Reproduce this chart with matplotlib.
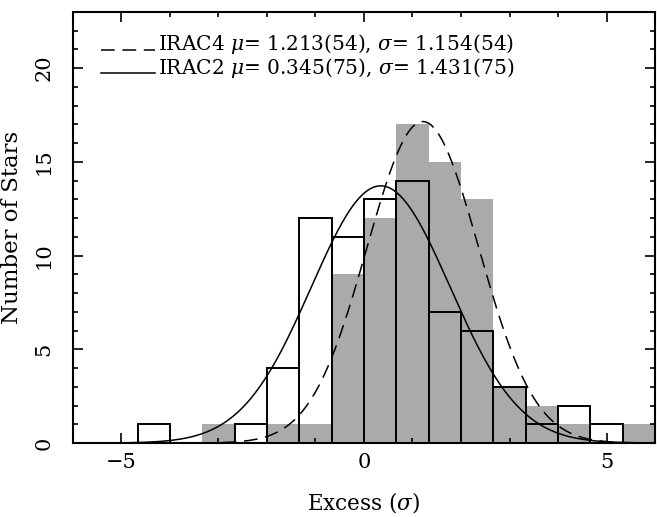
import numpy as np
import matplotlib
matplotlib.use("Agg")
import matplotlib.pyplot as plt
from matplotlib.ticker import MultipleLocator

plt.rcParams['font.family'] = ['DejaVu Serif']
plt.rcParams['mathtext.fontset'] = 'dejavuserif'
plt.rcParams['axes.unicode_minus'] = True

# ---- data ----
bin_width = 2.0 / 3.0
bin_left = [-14/3, -12/3, -10/3, -8/3, -6/3, -4/3, -2/3, 0.0,
            2/3, 4/3, 6/3, 8/3, 10/3, 12/3, 14/3, 16/3]
irac4_counts = [0, 0, 1, 0, 1, 1, 9, 12, 17, 15, 13, 3, 2, 1, 0, 1]
irac2_counts = [1, 0, 0, 1, 4, 12, 11, 13, 14, 7, 6, 3, 1, 2, 1, 0]

irac4_mu, irac4_sigma, irac4_peak = 1.213, 1.154, 17.15
irac2_mu, irac2_sigma, irac2_peak = 0.345, 1.431, 13.72

legend_labels = [r"IRAC4 $\mu$= 1.213(54), $\sigma$= 1.154(54)",
                 r"IRAC2 $\mu$= 0.345(75), $\sigma$= 1.431(75)"]

fig = plt.figure(figsize=(6.57, 5.17), dpi=100)
ax = fig.add_axes([0.111, 0.143, 0.886, 0.834])

ax.bar(bin_left, irac4_counts, width=bin_width, align='edge',
       color='#aaaaaa', edgecolor='none', linewidth=0, zorder=1)
ax.bar(bin_left, irac2_counts, width=bin_width, align='edge',
       facecolor='none', edgecolor='black', linewidth=1.4, zorder=2)

xs = np.linspace(-6, 6, 600)
g4 = irac4_peak * np.exp(-0.5 * ((xs - irac4_mu) / irac4_sigma) ** 2)
g2 = irac2_peak * np.exp(-0.5 * ((xs - irac2_mu) / irac2_sigma) ** 2)
ax.plot(xs, g4, color='black', lw=1.1, dashes=(9, 5), zorder=3)
ax.plot(xs, g2, color='black', lw=1.1, zorder=3)

# legend drawn manually
ax.plot([0.049, 0.141], [0.912, 0.912], transform=ax.transAxes,
        color='black', lw=1.1, dashes=(9, 5), clip_on=False)
ax.plot([0.049, 0.141], [0.859, 0.859], transform=ax.transAxes,
        color='black', lw=1.1, clip_on=False)
ax.text(0.146, 0.912, legend_labels[0], transform=ax.transAxes,
        fontsize=14.5, va='baseline', ha='left')
ax.text(0.146, 0.855, legend_labels[1], transform=ax.transAxes,
        fontsize=14.5, va='baseline', ha='left')

ax.set_xlim(-6, 6)
ax.set_ylim(0, 23)
ax.xaxis.set_major_locator(MultipleLocator(5))
ax.xaxis.set_minor_locator(MultipleLocator(1))
ax.yaxis.set_major_locator(MultipleLocator(5))
ax.yaxis.set_minor_locator(MultipleLocator(1))
ax.tick_params(which='both', direction='in', top=True, right=True, width=1.2)
ax.tick_params(which='major', length=7.2)
ax.tick_params(which='minor', length=3.6)
ax.tick_params(axis='x', which='major', labelsize=15, pad=7)
ax.tick_params(axis='y', which='major', labelsize=15, pad=14, labelrotation=90)
for lab in ax.get_yticklabels():
    lab.set_verticalalignment('center')
for s in ax.spines.values():
    s.set_linewidth(1.5)

ax.set_xlabel(r"Excess ($\sigma$)", fontsize=15.5, labelpad=13)
ax.set_ylabel("Number of Stars", fontsize=16.5, labelpad=8)

fig.savefig("out.png", dpi=100)
